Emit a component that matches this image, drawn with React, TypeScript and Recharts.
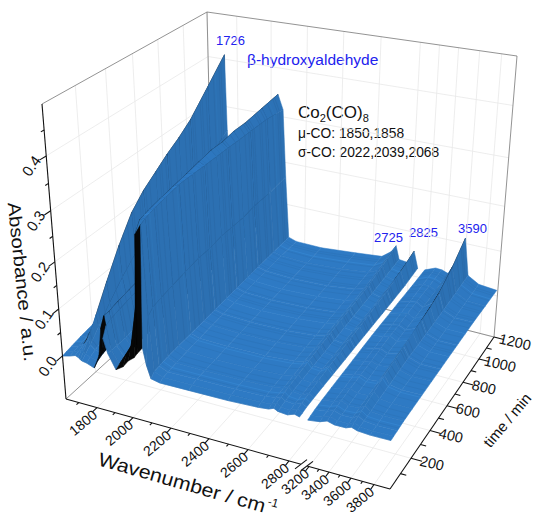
import { ScatterChart, Scatter, XAxis, YAxis } from "recharts"

// wavenumber samples along one spectrum (the axis is broken between 2850 and 3180)
const waves = [1630, 1670, 1700, 1715, 1726, 1735, 1760, 1800, 1830, 1850, 1858, 1880, 1920, 1960, 1990, 2022, 2039, 2068, 2085, 2105, 2150, 2300, 2500, 2650, 2700, 2725, 2745, 2790, 2825, 2850, 3180, 3300, 3370, 3440, 3540, 3590, 3640, 3750, 3930]
const times = [0, 25, 60, 120, 200, 300, 400, 500, 600, 700, 800, 900, 1050, 1200]
const breakIndex = 29

const t0 = [0, .004, .008, .006, .002, 0, -.002, -.008, .02, .08, .06, .03, 0, .01, .025, .035, .045, .06, .025, 0, -.004, -.004, -.004, -.002, 0, .004, 0, -.002, .003, 0, -.002, .001, .006, .002, .002, .006, .002, 0, 0]
const t25 = [.002, .006, .012, .014, .012, .008, .004, 0, .03, .1, .08, .03, .005, .03, .05, .13, .28, .3, .12, .008, 0, 0, 0, .001, .003, .008, .002, 0, .006, .001, 0, .003, .008, .003, .003, .008, .003, .001, .001]
const t60 = [.004, .008, .016, .024, .03, .018, .01, .005, .03, .1, .085, .03, .01, .03, .08, .21, .3, .305, .13, .01, .002, .002, .002, .003, .006, .01, .004, .002, .008, .003, .002, .005, .01, .004, .005, .011, .004, .002, .002]
const t120 = [.008, .014, .032, .05, .065, .04, .018, .01, .035, .105, .09, .03, .012, .032, .085, .22, .305, .31, .135, .012, .004, .003, .003, .005, .008, .013, .006, .004, .011, .004, .004, .007, .012, .006, .007, .015, .006, .004, .004]
const t200 = [.012, .022, .055, .09, .115, .07, .032, .015, .04, .11, .095, .035, .015, .035, .09, .23, .31, .315, .14, .013, .006, .004, .004, .007, .011, .016, .008, .006, .014, .005, .006, .009, .014, .008, .009, .02, .009, .005, .005]
const t300 = [.014, .031, .082, .133, .17, .102, .046, .02, .045, .115, .1, .04, .018, .038, .095, .24, .315, .32, .145, .014, .008, .006, .006, .01, .014, .02, .01, .008, .018, .006, .008, .012, .016, .01, .012, .026, .011, .006, .006]
const t400 = [.016, .04, .105, .17, .218, .13, .06, .025, .05, .12, .105, .045, .02, .04, .1, .25, .32, .32, .15, .015, .01, .007, .008, .012, .017, .024, .012, .009, .021, .007, .01, .014, .018, .012, .015, .031, .014, .007, .007]
const t500 = [.018, .046, .12, .195, .245, .148, .068, .03, .055, .125, .11, .05, .022, .042, .105, .255, .325, .32, .15, .016, .011, .008, .009, .014, .019, .027, .014, .011, .024, .008, .012, .016, .02, .013, .018, .036, .016, .008, .008]
const t600 = [.018, .05, .128, .208, .265, .16, .072, .035, .06, .13, .115, .055, .025, .044, .11, .26, .33, .32, .155, .017, .012, .009, .011, .016, .021, .03, .016, .013, .027, .009, .014, .018, .022, .015, .021, .04, .017, .009, .009]
const t700 = [.02, .054, .137, .222, .285, .171, .077, .04, .065, .135, .12, .06, .027, .046, .115, .265, .33, .32, .155, .018, .013, .01, .012, .018, .023, .032, .018, .014, .03, .01, .015, .02, .023, .016, .024, .045, .019, .01, .01]
const t800 = [.02, .056, .145, .235, .302, .181, .081, .045, .07, .14, .125, .065, .03, .048, .12, .27, .335, .32, .155, .019, .014, .011, .014, .02, .026, .035, .02, .016, .033, .011, .016, .022, .025, .017, .028, .05, .02, .011, .011]
const t900 = [.022, .059, .155, .252, .322, .193, .087, .05, .075, .145, .13, .07, .032, .05, .125, .275, .335, .32, .16, .02, .015, .012, .015, .022, .028, .038, .022, .018, .036, .012, .017, .024, .026, .018, .034, .057, .022, .012, .012]
const t1050 = [.024, .066, .175, .285, .365, .219, .099, .055, .08, .15, .135, .075, .035, .052, .13, .28, .34, .32, .16, .021, .016, .013, .018, .025, .035, .048, .026, .021, .045, .014, .018, .027, .027, .02, .048, .08, .026, .014, .012]
const t1200 = [.025, .074, .197, .32, .41, .246, .11, .06, .085, .155, .14, .08, .038, .055, .135, .285, .345, .315, .165, .022, .016, .015, .022, .028, .044, .06, .03, .028, .057, .02, .02, .03, .029, .024, .07, .112, .03, .016, .012]
const spectra = [t0, t25, t60, t120, t200, t300, t400, t500, t600, t700, t800, t900, t1050, t1200]

// tick labels
const waveTicks = [1800, 2000, 2200, 2400, 2600, 2800, 3200, 3400, 3600, 3800]
const waveMinor = [1700, 1900, 2100, 2300, 2500, 2700, 3300, 3500, 3700]
const timeTicks = [200, 400, 600, 800, 1000, 1200]
const timeMinor = [100, 300, 500, 700, 900, 1100]
const absTicks = [0, 0.1, 0.2, 0.3, 0.4]
const absMinor = [0.05, 0.15, 0.25, 0.35, 0.45]

// 3D box as it sits on the page: [u][v][a] corners
const corners = [
  [[[66, 399], [42, 104]], [[213, 265], [207, 12]]],
  [[[390, 489], [405, 159]], [[494, 337], [517, 56]]],
]
const uWave = [1630, 1800, 2000, 2200, 2400, 2600, 2800, 2860, 3180, 3200, 3400, 3600, 3800, 3940]
const uPos = [66, 97, 133, 171, 209, 248, 289, 301, 307, 309, 329, 351, 374, 390].map((x) => (x - 66) / 324)
const vTime = [0, 200, 400, 600, 800, 1000, 1200]
const vPos = [390, 411, 430, 447, 463, 479, 494].map((x) => (x - 390) / 104)
const aAbs = [-0.09, 0, 0.1, 0.2, 0.3, 0.4, 0.5]
const aPos = [0, 0.146, 0.305, 0.465, 0.638, 0.824, 1]

const interp = (xs: number[], ys: number[], v: number) => {
  let i = 0
  while (i < xs.length - 2 && v > xs[i + 1]) i++
  return ys[i] + ((v - xs[i]) / (xs[i + 1] - xs[i])) * (ys[i + 1] - ys[i])
}
const U = (w: number) => interp(uWave, uPos, w)
const V = (t: number) => interp(vTime, vPos, t)
const A = (z: number) => interp(aAbs, aPos, z)

const box = (u: number, v: number, a: number) => {
  const pick = (k: number) => {
    const c = corners
    const lo = (1 - u) * ((1 - v) * c[0][0][0][k] + v * c[0][1][0][k]) + u * ((1 - v) * c[1][0][0][k] + v * c[1][1][0][k])
    const hi = (1 - u) * ((1 - v) * c[0][0][1][k] + v * c[0][1][1][k]) + u * ((1 - v) * c[1][0][1][k] + v * c[1][1][1][k])
    return lo * (1 - a) + hi * a
  }
  return { x: pick(0), y: pick(1) }
}

// surface quads, painted from the far corner to the near one
const quadPts: { x: number; y: number }[] = []
const quadFill: string[] = []
const quadFlat: number[] = []
const quadLines: number[] = []
const quadFirst: number[] = []
for (let r = times.length - 2; r >= 0; r--) {
  for (let c = 0; c < waves.length - 1; c++) {
    if (c === breakIndex) continue
    const p1 = box(U(waves[c]), V(times[r + 1]), A(spectra[r + 1][c]))
    const p2 = box(U(waves[c + 1]), V(times[r + 1]), A(spectra[r + 1][c + 1]))
    const p3 = box(U(waves[c + 1]), V(times[r]), A(spectra[r][c + 1]))
    const p4 = box(U(waves[c]), V(times[r]), A(spectra[r][c]))
    const q = [p1, p2, p3, p4]
    let area = 0
    q.forEach((p, i) => {
      const n = q[(i + 1) % 4]
      area += p.x * n.y - n.x * p.y
    })
    quadPts.push(...q)
    quadLines.push(Math.max(1, Math.round((times[r + 1] - times[r]) / 16)))
    quadFirst.push(Math.round(times[r] / 16))
    // the open front end of the sharp carbonyl bands shows the dark underside
    const underside = area <= 0 || (r === 0 && ((c >= 12 && c <= 16) || c === 8 || c === 9))
    if (underside) {
      quadFill.push("#070707")
      quadFlat.push(-1)
      continue
    }
    const du = U(waves[c + 1]) - U(waves[c])
    const dv = V(times[r + 1]) - V(times[r])
    const sx = (0.5 * (A(spectra[r][c + 1]) - A(spectra[r][c]) + A(spectra[r + 1][c + 1]) - A(spectra[r + 1][c]))) / du
    const sy = (0.5 * (A(spectra[r + 1][c]) - A(spectra[r][c]) + A(spectra[r + 1][c + 1]) - A(spectra[r][c + 1]))) / dv
    const flat = Math.pow(1 / Math.sqrt(1 + sx * sx + sy * sy), 1.4)
    const mix = (a: number, b: number) => Math.round(a + (b - a) * flat)
    quadFill.push(`rgb(${mix(44, 46)},${mix(112, 122)},${mix(178, 196)})`)
    quadFlat.push(flat)
  }
}

// the fine spectrum lines on the sheet: 0 none, 1 darker, 2 lighter
const stripeTones = [1, 0, 1, 0, 0, 1, 2, 0, 1, 1, 0, 1, 0, 1, 0, 0, 1, 0, 2, 0, 0, 1, 0, 1, 0, 1, 1, 0, 0, 1, 1, 0]

// axis, tick and grid segments
const seg = (a: number[], b: number[]) => [box(a[0], a[1], a[2]), box(b[0], b[1], b[2])]
const gridPts = [
  ...waveTicks.flatMap((w) => [...seg([U(w), 0, 0], [U(w), 1, 0]), ...seg([U(w), 1, 0], [U(w), 1, 1])]),
  ...timeTicks.flatMap((t) => [...seg([0, V(t), 0], [1, V(t), 0]), ...seg([0, V(t), 0], [0, V(t), 1])]),
  ...absTicks.flatMap((z) => [...seg([0, 0, A(z)], [0, 1, A(z)]), ...seg([0, 1, A(z)], [1, 1, A(z)])]),
]
const framePts = [
  ...seg([0, 0, 1], [0, 1, 1]),
  ...seg([0, 1, 1], [1, 1, 1]),
  ...seg([1, 1, 1], [1, 1, 0]),
  ...seg([0, 1, 1], [0, 1, 0]),
  ...seg([0, 0, 0], [0, 1, 0]),
  ...seg([0, 1, 0], [1, 1, 0]),
]
const axisPts = [
  ...seg([0, 0, 1], [0, 0, 0]),
  ...seg([0, 0, 0], [U(2860), 0, 0]),
  ...seg([U(3180), 0, 0], [1, 0, 0]),
  ...seg([1, 0, 0], [1, 1, 0]),
  ...seg([U(2860) - 0.006, -0.035, 0], [U(2860) + 0.006, 0.035, 0]),
  ...seg([U(3180) - 0.006, -0.035, 0], [U(3180) + 0.006, 0.035, 0]),
  ...waveTicks.flatMap((w) => seg([U(w), 0, 0], [U(w), -0.03, 0])),
  ...waveMinor.flatMap((w) => seg([U(w), 0, 0], [U(w), -0.016, 0])),
  ...timeTicks.flatMap((t) => seg([1, V(t), 0], [1.035, V(t), 0])),
  ...timeMinor.flatMap((t) => seg([1, V(t), 0], [1.018, V(t), 0])),
  ...absTicks.flatMap((z) => seg([0, 0, A(z)], [0, -0.04, A(z)])),
  ...absMinor.flatMap((z) => seg([0, 0, A(z)], [0, -0.02, A(z)])),
]

const labelOf = (p: { x: number; y: number }, dx: number, dy: number, label: string) => ({ x: p.x + dx, y: p.y + dy, label })
const waveLabels = waveTicks.map((w) => labelOf(box(U(w), 0, 0), -14, 15, String(w)))
const timeLabels = timeTicks.map((t) => labelOf(box(1, V(t), 0), 21, 5, String(t)))
const absLabels = absTicks.map((z) => labelOf(box(0, 0, A(z)), -15, 10, z.toFixed(1)))

const noDot = () => <g />

const segLayer = (key: string, pts: { x: number; y: number }[], stroke: string, width: number) => (
  <Scatter
    key={key}
    data={pts}
    isAnimationActive={false}
    shape={noDot}
    line={(p: any) => (
      <g>
        {p.points.filter((_: any, i: number) => i % 2 === 0).map((a: any, i: number) => {
          const b = p.points[i * 2 + 1]
          return <line key={i} x1={a.x} y1={a.y} x2={b.x} y2={b.y} stroke={stroke} strokeWidth={width} />
        })}
      </g>
    )}
  />
)

const labelLayer = (key: string, pts: { x: number; y: number; label: string }[], angle: number, size: number) => (
  <Scatter
    key={key}
    data={pts}
    isAnimationActive={false}
    shape={(p: any) => (
      <text
        x={p.cx}
        y={p.cy}
        textAnchor="middle"
        dominantBaseline="central"
        fontSize={size}
        fill="#111"
        transform={`rotate(${angle} ${p.cx} ${p.cy})`}
      >
        {p.payload.label}
      </text>
    )}
  />
)

const renderSheet = (p: any) => (
  <g>
    {quadFill.map((fill, i) => {
      const q = p.points.slice(i * 4, i * 4 + 4)
      const flat = quadFlat[i]
      const n = quadLines[i]
      const lines = []
      if (flat >= 0) {
        for (let j = 0; j < n; j++) {
          const tone = stripeTones[(quadFirst[i] + j) % stripeTones.length]
          if (tone === 0) continue
          const f = j / n
          const color = tone === 1 ? (flat > 0.5 ? "#2b6fb3" : "#2965a2") : flat > 0.5 ? "#3b8fdb" : "#3079bd"
          lines.push(
            <line
              key={j}
              x1={q[3].x + (q[0].x - q[3].x) * f}
              y1={q[3].y + (q[0].y - q[3].y) * f}
              x2={q[2].x + (q[1].x - q[2].x) * f}
              y2={q[2].y + (q[1].y - q[2].y) * f}
              stroke={color}
              strokeWidth={0.45}
            />
          )
        }
      }
      return (
        <g key={i}>
          <polygon points={q.map((o: any) => `${o.x},${o.y}`).join(" ")} fill={fill} stroke={fill} strokeWidth={0.5} />
          {lines}
        </g>
      )
    })}
  </g>
)

export default function App() {
  return (
    <div style={{ position: "fixed", left: 0, top: 0, width: 534, height: 517, background: "#fff", fontFamily: "'Liberation Sans', Arial, sans-serif" }}>
      <ScatterChart width={534} height={517} margin={{ top: 0, right: 0, bottom: 0, left: 0 }}>
        <XAxis dataKey="x" type="number" domain={[0, 534]} hide />
        <YAxis dataKey="y" type="number" domain={[0, 517]} reversed hide />
        {segLayer("grid", gridPts, "#e8e8e8", 0.8)}
        {segLayer("frame", framePts, "#777", 0.8)}
        <Scatter data={quadPts} isAnimationActive={false} shape={noDot} line={renderSheet} />
        {segLayer("axes", axisPts, "#111", 1.1)}
        {labelLayer("waveLabels", waveLabels, -40, 14)}
        {labelLayer("timeLabels", timeLabels, 13, 14.5)}
        {labelLayer("absLabels", absLabels, -55, 15)}

        <text x={22} y={282} textAnchor="middle" dominantBaseline="central" fontSize={18} textLength={160} lengthAdjust="spacingAndGlyphs" fill="#111" transform="rotate(84 22 282)">Absorbance / a.u.</text>
        <text x={97} y={465} fontSize={19} textLength={173} lengthAdjust="spacingAndGlyphs" fill="#111" transform="rotate(16 97 465)">Wavenumber / cm</text>
        <text x={267} y={505} fontSize={12} fill="#111" transform="rotate(16 267 505)">-1</text>
        <text x={507} y={420} textAnchor="middle" dominantBaseline="central" fontSize={15} fill="#111" transform="rotate(-50 507 420)">time / min</text>

        <text x={216} y={45} fontSize={13} fill="#2222ee">1726</text>
        <text x={247} y={65} fontSize={15.5} fill="#2222ee">β-hydroxyaldehyde</text>
        <text x={374} y={242} fontSize={13} fill="#2222ee">2725</text>
        <text x={409} y={237} fontSize={13} fill="#2222ee">2825</text>
        <text x={458} y={233} fontSize={13} fill="#2222ee">3590</text>
        <text x={298} y={118} fontSize={17} fill="#111">
          Co<tspan dy={4} fontSize={11}>2</tspan><tspan dy={-4}>(CO)</tspan><tspan dy={4} fontSize={11}>8</tspan>
        </text>
        <text x={298} y={138} fontSize={13.8} fill="#111">μ-CO: 1850,1858</text>
        <text x={298} y={157} fontSize={13.8} fill="#111">σ-CO: 2022,2039,2068</text>
      </ScatterChart>
    </div>
  )
}
